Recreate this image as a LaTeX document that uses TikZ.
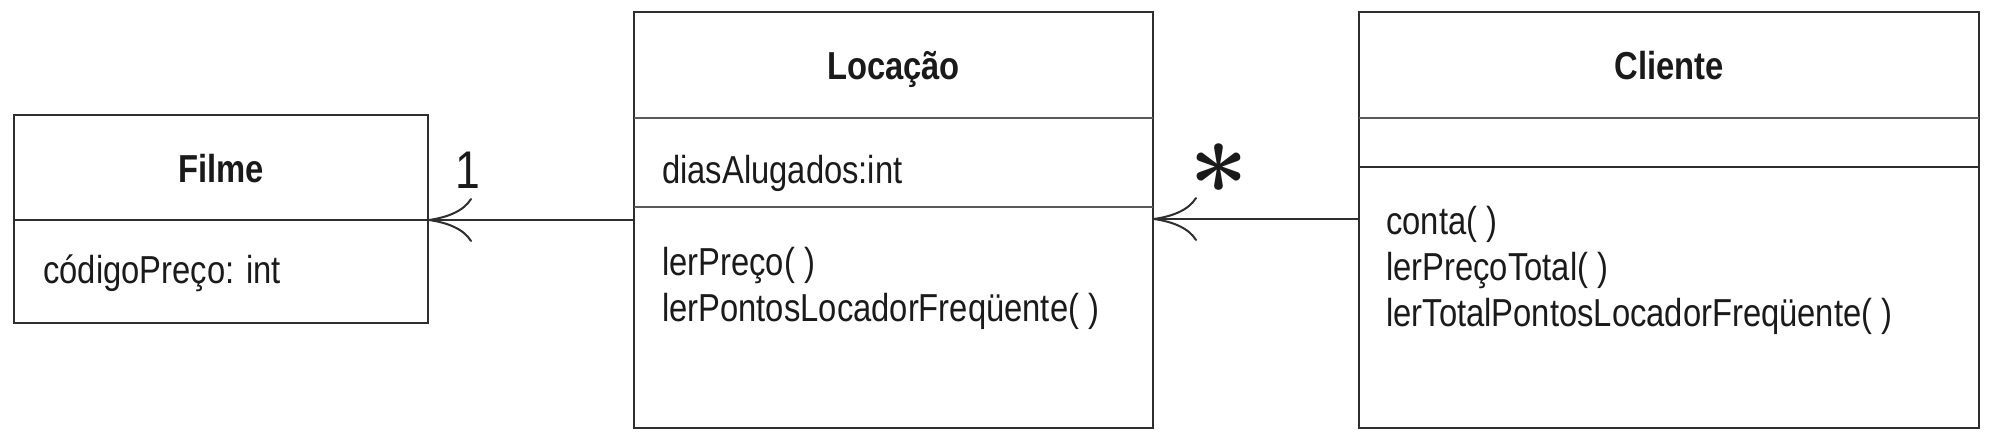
\documentclass[tikz,border=0pt]{standalone}
\usepackage{fontspec}
\setmainfont[FakeStretch=0.84]{Liberation Sans}
\newfontfamily\lmfont{Latin Modern Roman}
\usetikzlibrary{arrows.meta}
\definecolor{boxc}{HTML}{2E2E2E}
\definecolor{divc}{HTML}{5A5A5A}
\definecolor{textc}{HTML}{1A1A1A}
\begin{document}
\begin{tikzpicture}[x=1pt,y=-1pt,
  classbox/.style={draw=boxc, line width=2.6pt, rectangle, inner sep=0pt, outer sep=0pt},
  divider/.style={draw=divc, line width=2.6pt},
  divdark/.style={draw=boxc, line width=2.4pt},
  title/.style={font=\fontsize{39}{46}\selectfont\bfseries, text=textc, inner sep=0pt, anchor=base},
  member/.style={font=\fontsize{39}{46}\selectfont, text=textc, inner sep=0pt, anchor=base west},
  mult/.style={text=textc, inner sep=0pt, anchor=base},
  assoc/.style={draw=boxc, line width=2.2pt, -{Computer Modern Rightarrow[length=44pt,width=44pt,line width=2pt]}}
]
\useasboundingbox (0,0) rectangle (1994,444);
% classes
\node[classbox, minimum width=414pt, minimum height=208pt] (filme) at (221,219) {};
\node[classbox, minimum width=519pt, minimum height=416pt] (loc) at (893.5,220) {};
\node[classbox, minimum width=620pt, minimum height=416pt] (cli) at (1669,220) {};
% dividers
\draw[divdark] (filme.west |- 0,220) -- (filme.east |- 0,220);
\draw[divider] (loc.west |- 0,118) -- (loc.east |- 0,118);
\draw[divider] (loc.west |- 0,207) -- (loc.east |- 0,207);
\draw[divider] (cli.west |- 0,118) -- (cli.east |- 0,118);
\draw[divdark] (cli.west |- 0,167) -- (cli.east |- 0,167);
% texts
\node[title] (filmeT) at (221,182) {Filme};
\node[member] (filmeA) at (43,283) {códigoPreço: int};
\node[title] (locT) at (893.5,79) {Locação};
\node[member] (locA) at (662,183) {diasAlugados:int};
\node[member] (locO1) at (662,275) {lerPreço( )};
\node[member] (locO2) at (662,321) {lerPontosLocadorFreqüente( )};
\node[title] (cliT) at (1669,79) {Cliente};
\node[member] (cliO1) at (1386,234) {conta( )};
\node[member] (cliO2) at (1386,280) {lerPreçoTotal( )};
\node[member] (cliO3) at (1386,326) {lerTotalPontosLocadorFreqüente( )};
% associations
\draw[assoc] (loc.west |- 0,220) -- (filme.east |- 0,220);
\draw[assoc] (cli.west |- 0,219) -- (loc.east |- 0,219);
\node[mult, font=\fontsize{53}{53}\selectfont] (m1) at (468,188) {1};
\node[mult, font=\fontsize{105}{105}\selectfont\lmfont\bfseries] (m2) at (1219,222) {*};
\end{tikzpicture}
\end{document}
